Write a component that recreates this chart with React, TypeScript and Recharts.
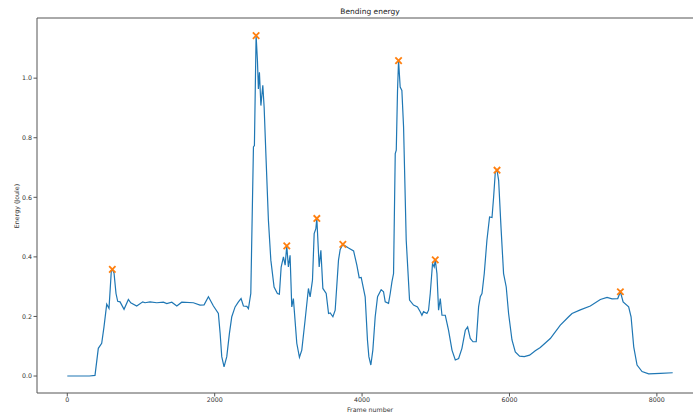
import {
  ComposedChart,
  Line,
  Scatter,
  XAxis,
  YAxis,
  ReferenceLine,
} from "recharts";

// Bending energy per frame.
const FRAMES = [
  0, 100, 200, 300, 376, 421, 467, 498, 535, 566, 598, 611, 634, 661, 684, 716,
  770, 829, 861, 942, 1024, 1055, 1123, 1214, 1304, 1350, 1418, 1486, 1553,
  1711, 1801, 1856, 1915, 1950, 1983, 2050, 2074, 2096, 2127, 2164, 2200, 2232,
  2277, 2322, 2358, 2390, 2436, 2458, 2490, 2526, 2539, 2562, 2580, 2593, 2607,
  2627, 2653, 2671, 2698, 2729, 2762, 2806, 2851, 2878, 2902, 2933, 2956, 2978,
  3000, 3023, 3046, 3068, 3114, 3150, 3182, 3227, 3272, 3295, 3327, 3350, 3373,
  3386, 3418, 3441, 3468, 3513, 3545, 3568, 3604, 3635, 3680, 3703, 3739, 3816,
  3885, 3929, 3961, 3988, 4042, 4073, 4092, 4119, 4146, 4178, 4210, 4259, 4291,
  4314, 4359, 4382, 4405, 4427, 4450, 4464, 4481, 4495, 4517, 4540, 4563, 4599,
  4644, 4698, 4752, 4789, 4812, 4834, 4880, 4902, 4925, 4956, 4979, 4993, 5016,
  5038, 5061, 5084, 5129, 5173, 5220, 5265, 5310, 5355, 5401, 5432, 5468, 5505,
  5549, 5581, 5604, 5627, 5658, 5694, 5730, 5763, 5785, 5808, 5831, 5853, 5885,
  5920, 5956, 5988, 6034, 6079, 6137, 6201, 6273, 6350, 6418, 6554, 6690, 6803,
  6849, 6961, 7097, 7233, 7324, 7392, 7469, 7505, 7542, 7617, 7650, 7686, 7731,
  7799, 7889, 8048, 8215,
];

const ENERGY = [
  0, 0, 0, 0, 0.002, 0.093, 0.11, 0.165, 0.241, 0.227, 0.355, 0.358, 0.346,
  0.277, 0.251, 0.249, 0.224, 0.257, 0.246, 0.235, 0.249, 0.246, 0.249, 0.246,
  0.248, 0.243, 0.248, 0.235, 0.248, 0.246, 0.238, 0.239, 0.266, 0.25, 0.235,
  0.21, 0.143, 0.065, 0.031, 0.065, 0.143, 0.199, 0.232, 0.249, 0.26, 0.235,
  0.234, 0.226, 0.277, 0.769, 0.774, 1.143, 1.06, 0.964, 1.02, 0.908, 0.976,
  0.903, 0.724, 0.523, 0.389, 0.299, 0.277, 0.275, 0.366, 0.4, 0.372, 0.437,
  0.366, 0.405, 0.232, 0.26, 0.11, 0.063, 0.087, 0.188, 0.294, 0.266, 0.322,
  0.478, 0.495, 0.529, 0.366, 0.422, 0.294, 0.277, 0.21, 0.212, 0.199, 0.221,
  0.389, 0.425, 0.442, 0.43, 0.42, 0.372, 0.33, 0.331, 0.266, 0.121, 0.065,
  0.037, 0.087, 0.199, 0.266, 0.29, 0.283, 0.249, 0.244, 0.277, 0.316, 0.344,
  0.747, 0.758, 0.959, 1.059, 0.97, 0.959, 0.836, 0.456, 0.255, 0.238, 0.232,
  0.216, 0.204, 0.216, 0.21, 0.221, 0.277, 0.378, 0.366, 0.39, 0.344, 0.221,
  0.26, 0.204, 0.204, 0.154, 0.087, 0.054, 0.059, 0.093, 0.154, 0.165, 0.126,
  0.115, 0.115, 0.232, 0.266, 0.277, 0.344, 0.456, 0.534, 0.532, 0.601, 0.685,
  0.691, 0.657, 0.5, 0.344, 0.299, 0.21, 0.121, 0.081, 0.067, 0.065, 0.07,
  0.085, 0.096, 0.126, 0.171, 0.199, 0.21, 0.222, 0.235, 0.257, 0.264, 0.259,
  0.26, 0.283, 0.249, 0.232, 0.199, 0.098, 0.037, 0.015, 0.007, 0.009, 0.011,
];

// Detected peaks (orange crosses).
const PEAK_FRAMES = [611, 2562, 2978, 3386, 3739, 4495, 4993, 5831, 7505];
const PEAK_ENERGY = [0.358, 1.143, 0.437, 0.529, 0.442, 1.059, 0.39, 0.691, 0.283];

const X_TICKS = [0, 2000, 4000, 6000, 8000];
const Y_TICKS = [0, 0.2, 0.4, 0.6, 0.8, 1.0];
const X_DOMAIN = [-411, 8626];
const Y_DOMAIN = [-0.057, 1.202];

const FONT = "'DejaVu Sans', sans-serif";
const AXIS_COLOR = "#555";
const LINE_COLOR = "#1f77b4";
const PEAK_COLOR = "#ff7f0e";

const series = FRAMES.map((frame, i) => ({ frame, energy: ENERGY[i] }));
const peaks = PEAK_FRAMES.map((frame, i) => ({ frame, energy: PEAK_ENERGY[i] }));

function Cross(props: any) {
  const { cx, cy } = props;
  const r = 3.2;
  return (
    <g stroke={PEAK_COLOR} strokeWidth={1.8}>
      <line x1={cx - r} y1={cy - r} x2={cx + r} y2={cy + r} />
      <line x1={cx - r} y1={cy + r} x2={cx + r} y2={cy - r} />
    </g>
  );
}

const tickStyle = { fontSize: 6.3, fill: "#333", fontFamily: FONT };

export default function App() {
  return (
    <div
      style={{
        position: "absolute",
        left: 0,
        top: 0,
        width: 693,
        height: 416,
        overflow: "hidden",
        background: "#fff",
      }}
    >
      <ComposedChart
        width={703}
        height={416}
        data={series}
        margin={{ top: 18, right: 0, bottom: 0, left: 0 }}
      >
        <XAxis
          dataKey="frame"
          type="number"
          domain={X_DOMAIN}
          ticks={X_TICKS}
          allowDataOverflow
          height={23}
          tickSize={3.5}
          tickMargin={1.5}
          tick={tickStyle}
          stroke={AXIS_COLOR}
        />
        <YAxis
          type="number"
          domain={Y_DOMAIN}
          ticks={Y_TICKS}
          allowDataOverflow
          width={37}
          tickSize={3.5}
          tickMargin={1.5}
          tick={tickStyle}
          tickFormatter={(v: number) => v.toFixed(1)}
          stroke={AXIS_COLOR}
        />
        <ReferenceLine y={Y_DOMAIN[1]} stroke={AXIS_COLOR} ifOverflow="extendDomain" />
        <Line
          type="linear"
          dataKey="energy"
          stroke={LINE_COLOR}
          strokeWidth={1.2}
          dot={false}
          isAnimationActive={false}
        />
        <Scatter
          data={peaks}
          dataKey="energy"
          shape={<Cross />}
          isAnimationActive={false}
        />
      </ComposedChart>
      <div
        style={{
          position: "absolute",
          left: 370,
          top: 12,
          transform: "translate(-50%, -50%)",
          fontFamily: FONT,
          fontSize: 7.5,
          lineHeight: 1,
          color: "#222",
          whiteSpace: "nowrap",
        }}
      >
        Bending energy
      </div>
      <div
        style={{
          position: "absolute",
          left: 370,
          top: 409.5,
          transform: "translate(-50%, -50%)",
          fontFamily: FONT,
          fontSize: 6.3,
          lineHeight: 1,
          color: "#333",
          whiteSpace: "nowrap",
        }}
      >
        Frame number
      </div>
      <div
        style={{
          position: "absolute",
          left: 17,
          top: 205.6,
          transform: "translate(-50%, -50%) rotate(-90deg)",
          fontFamily: FONT,
          fontSize: 6.3,
          lineHeight: 1,
          color: "#333",
          whiteSpace: "nowrap",
        }}
      >
        Energy (Joule)
      </div>
    </div>
  );
}
